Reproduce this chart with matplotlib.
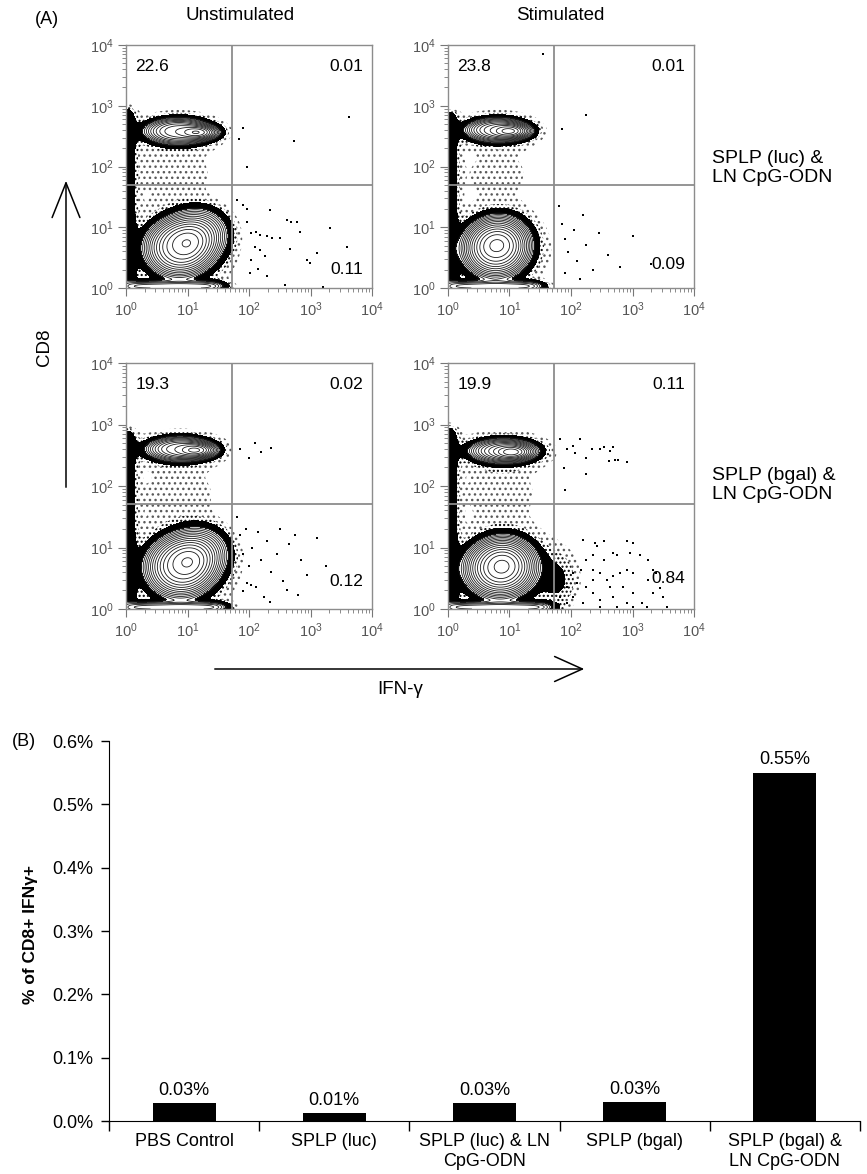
import numpy as np
import matplotlib
matplotlib.use("Agg")
import matplotlib.pyplot as plt
from matplotlib.patches import FancyArrowPatch

plt.rcParams['font.family'] = ['Liberation Sans', 'DejaVu Sans']
plt.rcParams['mathtext.fontset'] = 'custom'
plt.rcParams['mathtext.rm'] = 'Liberation Sans'
plt.rcParams['mathtext.it'] = 'Liberation Sans:italic'
plt.rcParams['hatch.linewidth'] = 1.0

W, H = 867, 1174

# ---------- panel A data (all coordinates in decades, log10 of intensity) ----------
col_titles = ["Unstimulated", "Stimulated"]
row_labels = ["SPLP (luc) &\nLN CpG-ODN", "SPLP (bgal) &\nLN CpG-ODN"]
gate_ifn = 1.73
gate_cd8 = 1.70

# quadrant percentages: upper-left, upper-right, lower-right
q_luc_unstim = ["22.6", "0.01", "0.11"]
q_luc_stim = ["23.8", "0.01", "0.09"]
q_bgal_unstim = ["19.3", "0.02", "0.12"]
q_bgal_stim = ["19.9", "0.11", "0.84"]
q_low_y = [0.30, 0.38, 0.45, 0.50]

# populations: (centre x, centre y, spread x, spread y, tilt deg, peak, shape power)
pops_luc_unstim = [(0.85, 2.58, 0.30, 0.12, 0, 0.30, 2.5), (1.18, 2.56, 0.15, 0.06, 0, 0.40, 2),
                   (0.85, 0.66, 0.29, 0.25, 0, 0.45, 2.5), (1.05, 0.78, 0.25, 0.20, 25, 0.60, 2)]
haze_luc_unstim = [(0.8, 1.9, 0.5, 0.35, 0, 0.006, 2), (0.88, 0.62, 0.70, 0.60, 0, 0.011, 3),
                   (0.85, 2.58, 0.62, 0.26, 0, 0.011, 3)]
pops_luc_stim = [(0.80, 2.60, 0.28, 0.11, 0, 0.30, 2.5), (1.02, 2.58, 0.15, 0.06, 0, 0.40, 2),
                 (0.78, 0.64, 0.28, 0.25, 0, 0.45, 2.5), (0.80, 0.72, 0.22, 0.19, 15, 0.60, 2)]
haze_luc_stim = [(0.8, 1.9, 0.5, 0.35, 0, 0.005, 2), (0.80, 0.62, 0.66, 0.58, 0, 0.011, 3),
                 (0.80, 2.60, 0.58, 0.25, 0, 0.011, 3)]
pops_bgal_unstim = [(0.88, 2.60, 0.30, 0.11, 0, 0.30, 2.5), (1.15, 2.58, 0.15, 0.06, 0, 0.40, 2),
                    (0.88, 0.68, 0.30, 0.26, 0, 0.45, 2.5), (1.05, 0.80, 0.25, 0.20, 25, 0.60, 2)]
haze_bgal_unstim = [(0.85, 1.9, 0.5, 0.35, 0, 0.006, 2), (0.90, 0.64, 0.72, 0.62, 0, 0.011, 3),
                    (0.88, 2.60, 0.62, 0.25, 0, 0.011, 3)]
pops_bgal_stim = [(0.90, 2.57, 0.30, 0.11, 0, 0.30, 2.5), (1.05, 2.55, 0.15, 0.06, 0, 0.40, 2),
                  (0.85, 0.66, 0.31, 0.25, 0, 0.45, 2.5), (0.88, 0.70, 0.22, 0.19, 15, 0.60, 2)]
haze_bgal_stim = [(0.85, 1.9, 0.5, 0.35, 0, 0.006, 2), (0.90, 0.62, 0.74, 0.60, 0, 0.011, 3),
                  (0.90, 2.57, 0.64, 0.26, 0, 0.011, 3), (1.8, 0.45, 0.22, 0.32, 0, 0.010, 2)]

# axis pile-up: (height of left strip, x-extent of bottom strip)
pile_luc_unstim = (2.95, 1.50)
pile_luc_stim = (2.90, 1.45)
pile_bgal_unstim = (2.90, 1.55)
pile_bgal_stim = (2.95, 1.60)

# single events outside the populations
dots_luc_unstim = [(1.91, 2.63), (1.84, 2.46), (1.96, 2.00), (2.73, 2.42), (3.63, 2.81),
                   (1.80, 1.45), (1.96, 1.09), (2.04, 0.90), (2.12, 0.93), (2.18, 0.87),
                   (2.34, 1.28), (2.29, 0.85), (2.37, 0.82), (2.10, 0.68), (2.18, 0.63),
                   (2.26, 0.52), (2.04, 0.46), (2.02, 0.24), (2.15, 0.32), (2.50, 0.82),
                   (2.61, 1.12), (2.69, 1.08), (2.78, 1.08), (2.67, 0.65), (2.83, 0.93),
                   (2.94, 0.46), (2.99, 0.41), (3.10, 0.57), (3.32, 0.98), (3.59, 0.68),
                   (2.59, 0.05), (3.21, 0.02), (2.29, 0.19), (1.91, 1.36), (1.97, 1.30)]
dots_luc_stim = [(1.85, 2.62), (2.25, 2.85), (1.55, 3.85),
                 (1.80, 1.35), (1.85, 1.05), (1.90, 0.80), (1.95, 0.60), (2.05, 0.95),
                 (2.10, 0.45), (2.20, 1.20), (2.25, 0.70), (2.35, 0.30), (2.45, 0.90),
                 (2.60, 0.55), (2.80, 0.35), (3.00, 0.85), (3.30, 0.40), (1.90, 0.25),
                 (2.15, 0.15)]
dots_bgal_unstim = [(2.20, 2.55), (2.35, 2.62), (2.10, 2.70), (1.85, 2.60), (2.00, 2.45),
                    (1.80, 1.50), (1.85, 1.20), (1.90, 0.90), (1.95, 1.30), (2.00, 0.70),
                    (2.05, 1.00), (2.15, 1.25), (2.20, 0.80), (2.30, 1.10), (2.35, 0.60),
                    (2.45, 0.90), (2.50, 1.30), (2.55, 0.45), (2.65, 1.05), (2.75, 1.20),
                    (2.85, 0.80), (2.95, 0.55), (3.10, 1.15), (1.90, 0.30), (2.25, 0.20),
                    (3.25, 0.70), (1.96, 0.43), (2.04, 0.39), (2.12, 0.36), (2.34, 0.11),
                    (2.61, 0.31), (2.80, 0.23)]
dots_bgal_stim = [(1.82, 2.76), (1.93, 2.60), (2.04, 2.65), (2.07, 2.54), (2.15, 2.76),
                  (2.25, 2.46), (2.34, 2.60), (2.47, 2.60), (2.53, 2.63), (2.63, 2.57),
                  (2.69, 2.63), (2.61, 2.41), (2.72, 2.43), (2.77, 2.43), (2.91, 2.39),
                  (2.25, 2.19), (1.90, 1.94), (1.88, 2.30),
                  (2.20, 1.13), (2.39, 1.07), (2.42, 1.02), (2.53, 1.10), (2.69, 0.91),
                  (2.74, 0.88), (2.91, 1.10), (3.01, 1.07), (2.96, 0.91), (3.12, 0.88),
                  (3.26, 0.80), (3.34, 0.64), (3.39, 0.58), (3.26, 0.47), (3.45, 0.34),
                  (3.34, 0.26), (3.50, 0.20), (3.56, 0.04), (3.23, 0.04), (3.15, 0.09),
                  (3.01, 0.58), (2.91, 0.64), (2.80, 0.58), (2.69, 0.53), (2.58, 0.47),
                  (2.47, 0.58), (2.36, 0.64), (2.25, 0.80), (2.17, 0.64), (2.04, 0.58),
                  (2.09, 0.42), (2.25, 0.36), (2.36, 0.26), (2.47, 0.15), (2.69, 0.20),
                  (2.91, 0.09), (3.01, 0.26), (2.63, 0.36), (2.85, 0.36), (1.93, 0.36),
                  (2.04, 0.20), (2.20, 0.09), (1.93, 0.09), (1.82, 0.20), (3.01, 0.04),
                  (2.47, 0.04), (2.74, 0.04), (2.36, 0.47), (2.53, 0.80), (2.36, 0.88)]

# ---------- panel B data ----------
groups = ["PBS Control", "SPLP (luc)", "SPLP (luc) & LN\nCpG-ODN", "SPLP (bgal)",
          "SPLP (bgal) &\nLN CpG-ODN"]
pct_cd8_ifn = [0.028, 0.012, 0.028, 0.030, 0.55]
pct_text = ["0.03%", "0.01%", "0.03%", "0.03%", "0.55%"]


fig = plt.figure(figsize=(W / 100, H / 100), dpi=100)


def px_axes(l, t, r, b):
    return fig.add_axes([l / W, 1 - b / H, (r - l) / W, (b - t) / H])


def fig_text(x, y, s, **kw):
    fig.text(x / W, 1 - y / H, s, **kw)


g = np.linspace(0, 4, 401)
GX, GY = np.meshgrid(g, g)


def soft_box(t, lo, hi, e=0.05):
    return 1 / (1 + np.exp(-(t - lo) / e)) / (1 + np.exp((t - hi) / e))


def blob_sum(comps):
    z = np.zeros_like(GX)
    for cx, cy, sx, sy, ang, w, p in comps:
        a = np.deg2rad(ang)
        dx, dy = GX - cx, GY - cy
        u = dx * np.cos(a) + dy * np.sin(a)
        v = -dx * np.sin(a) + dy * np.cos(a)
        r = np.sqrt((u / sx) ** 2 + (v / sy) ** 2)
        z += w * np.exp(-0.5 * r ** p)
    return z


def flow_plot(ax, pops, haze, pile, dots, quad, qy):
    top, right = pile
    z = blob_sum(pops) + blob_sum(haze)
    z += 0.022 * np.exp(-0.5 * (GX / 0.11) ** 2) * soft_box(GY, -0.2, top)
    z += 0.10 * np.exp(-0.5 * ((GY - 0.03) / 0.05) ** 2) * soft_box(GX, 0.05, right, 0.08)
    with plt.rc_context({'hatch.color': '#5a5a5a'}):
        ax.contourf(GX, GY, z, levels=[0.0035, 0.007], colors='none', hatches=['...'])
    with plt.rc_context({'hatch.color': 'black'}):
        ax.contourf(GX, GY, z, levels=[0.007, 0.012], colors='none', hatches=['....'])
    ax.contourf(GX, GY, z, levels=[0.012, 0.03], colors='black')
    ax.contour(GX, GY, z, levels=np.geomspace(0.03, 0.95, 14), colors='#1a1a1a',
               linewidths=0.6)
    xs = [d[0] for d in dots]
    ys = [d[1] for d in dots]
    ax.scatter(xs, ys, s=2.5, c='black', marker='s', linewidths=0)
    ax.axvline(gate_ifn, color='#8c8c8c', lw=1.3)
    ax.axhline(gate_cd8, color='#8c8c8c', lw=1.3)
    ax.set_xlim(0, 4)
    ax.set_ylim(0, 4)
    dec = range(5)
    minor = [k + np.log10(m) for k in range(4) for m in range(2, 10)]
    ax.set_xticks(dec)
    ax.set_yticks(dec)
    ax.set_xticks(minor, minor=True)
    ax.set_yticks(minor, minor=True)
    lab = [r'$10^{%d}$' % k for k in dec]
    ax.set_xticklabels(lab)
    ax.set_yticklabels(lab)
    ax.tick_params(which='major', length=6, width=0.8, color='#777777',
                   labelcolor='#555555', labelsize=10.5, pad=3)
    ax.tick_params(which='minor', length=3, width=0.6, color='#777777')
    for s in ax.spines.values():
        s.set_color('#8c8c8c')
        s.set_linewidth(1.0)
    ax.text(0.15, 3.65, quad[0], ha='left', va='center', fontsize=12.5)
    ax.text(3.85, 3.65, quad[1], ha='right', va='center', fontsize=12.5)
    ax.text(3.85, qy, quad[2], ha='right', va='center', fontsize=12.5)


ax1 = px_axes(126, 45, 372, 288)
flow_plot(ax1, pops_luc_unstim, haze_luc_unstim, pile_luc_unstim, dots_luc_unstim,
          q_luc_unstim, q_low_y[0])
ax2 = px_axes(448, 45, 694, 288)
flow_plot(ax2, pops_luc_stim, haze_luc_stim, pile_luc_stim, dots_luc_stim,
          q_luc_stim, q_low_y[1])
ax3 = px_axes(126, 363, 372, 609)
flow_plot(ax3, pops_bgal_unstim, haze_bgal_unstim, pile_bgal_unstim, dots_bgal_unstim,
          q_bgal_unstim, q_low_y[2])
ax4 = px_axes(448, 363, 694, 609)
flow_plot(ax4, pops_bgal_stim, haze_bgal_stim, pile_bgal_stim, dots_bgal_stim,
          q_bgal_stim, q_low_y[3])

fig_text(35, 20, "(A)", ha='left', va='center', fontsize=13)
fig_text(240, 15, col_titles[0], ha='center', va='center', fontsize=13.5)
fig_text(560, 15, col_titles[1], ha='center', va='center', fontsize=13.5)
fig_text(712, 168, row_labels[0], ha='left', va='center', fontsize=14, linespacing=1.2)
fig_text(712, 485, row_labels[1], ha='left', va='center', fontsize=14, linespacing=1.2)
fig_text(45, 347, "CD8", ha='center', va='center', rotation=90, fontsize=13.5)
fig_text(400, 690, "IFN-γ", ha='center', va='center', fontsize=13.5)

arr_v = FancyArrowPatch((66 / W, 1 - 490 / H), (66 / W, 1 - 178 / H), transform=fig.transFigure,
                        arrowstyle='->,head_length=2.5,head_width=1.0', mutation_scale=10,
                        lw=1.1, color='black')
arr_h = FancyArrowPatch((212 / W, 1 - 669 / H), (587 / W, 1 - 669 / H), transform=fig.transFigure,
                        arrowstyle='->,head_length=2.0,head_width=0.9', mutation_scale=10,
                        lw=1.1, color='black')
fig.patches.extend([arr_v, arr_h])

# ---------- panel B ----------
axb = px_axes(109, 741, 860, 1121)
xc = np.arange(len(groups)) + 0.5
axb.bar(xc, pct_cd8_ifn, width=0.42, color='black')
for xi, v, t in zip(xc, pct_cd8_ifn, pct_text):
    axb.annotate(t, (xi, v), xytext=(0, 3), textcoords='offset points',
                 ha='center', va='bottom', fontsize=13)
axb.set_xlim(0, len(groups))
axb.set_ylim(0, 0.6)
axb.set_xticks(range(len(groups) + 1))
axb.set_xticklabels([])
axb.set_xticks(xc, minor=True)
axb.set_xticklabels(groups, minor=True)
axb.tick_params(axis='x', which='minor', length=0, pad=9, labelsize=13)
axb.tick_params(axis='x', which='major', length=7, width=1.0, direction='out')
axb.set_yticks(np.arange(0, 0.61, 0.1))
axb.set_yticklabels(["%.1f%%" % v for v in np.arange(0, 0.61, 0.1)])
axb.tick_params(axis='y', length=6, width=1.0, labelsize=13, pad=5)
axb.spines['top'].set_visible(False)
axb.spines['right'].set_visible(False)
fig_text(30, 935, "% of CD8+ IFNγ+", ha='center', va='center', rotation=90,
         fontsize=12.5, fontweight='bold')
fig_text(12, 741, "(B)", ha='left', va='center', fontsize=13)

fig.savefig("out.png", dpi=100)
